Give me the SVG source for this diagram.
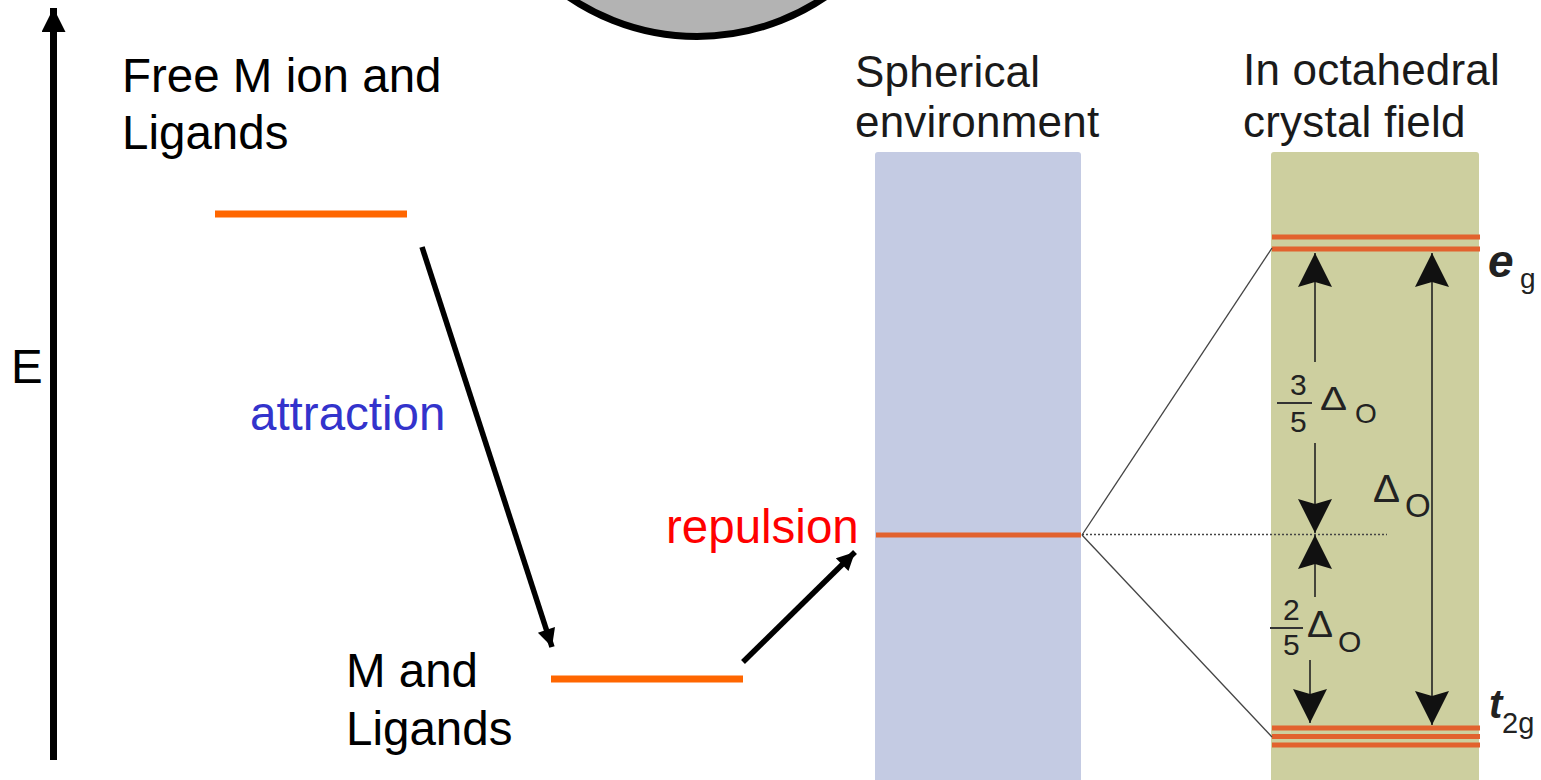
<svg xmlns="http://www.w3.org/2000/svg" width="1541" height="780" viewBox="0 0 1541 780">
<style>
.t{font-family:"Liberation Sans",Arial,sans-serif;fill:#000}
.big{font-size:47.5px}
.hd{font-size:44px;fill:#1a1a1a;letter-spacing:0.2px}
.lvl{stroke:#ff6600;stroke-width:7;fill:none}
.lvr{stroke:#e2622e;stroke-width:5;fill:none}
.thick{stroke:#000;stroke-width:5.5;fill:none}
.thin{stroke:#222;stroke-width:1.6;fill:none}
.split{stroke:#444;stroke-width:1.3;fill:none}
.math{font-family:"Liberation Sans",Arial,sans-serif;fill:#222}
</style>
<defs>
<marker id="ahT" viewBox="0 0 10 10" refX="10" refY="5" markerUnits="userSpaceOnUse" markerWidth="22" markerHeight="18" orient="auto-start-reverse">
<path d="M0,0 L10,5 L0,10 z" fill="#000"/>
</marker>
<marker id="ahA" viewBox="0 0 10 10" refX="10" refY="5" markerUnits="userSpaceOnUse" markerWidth="24" markerHeight="24" orient="auto-start-reverse">
<path d="M0,0 L10,5 L0,10 z" fill="#000"/>
</marker>
<marker id="ahS" viewBox="0 0 10 10" refX="10" refY="5" markerUnits="userSpaceOnUse" markerWidth="36" markerHeight="34" orient="auto-start-reverse">
<path d="M0,0 L10,5 L0,10 L1.5,5 z" fill="#111"/>
</marker>
</defs>
<rect width="1541" height="780" fill="#fff"/>

<g id="metal-sphere">
<circle cx="697" cy="-191" r="227.5" fill="#b3b3b3" stroke="#000" stroke-width="7"/>
</g>

<g id="energy-axis">
<text class="t big" x="11" y="383">E</text>
</g>

<g id="free-level">
<line class="lvl" x1="215" y1="214" x2="407" y2="214"/>
<text class="t big" x="122" y="92">Free M ion and</text>
<text class="t big" x="122" y="149">Ligands</text>
</g>

<g id="bound-level">
<line class="lvl" x1="551" y1="679" x2="743" y2="679"/>
<text class="t big" x="346" y="687">M and</text>
<text class="t big" x="346" y="745">Ligands</text>
</g>

<g id="spherical">
<rect x="875" y="152" width="206" height="640" rx="3" fill="#c4cbe3"/>
<line class="lvr" x1="876" y1="535" x2="1081" y2="535"/>
<text class="t hd" x="855" y="87">Spherical</text>
<text class="t hd" x="855" y="137">environment</text>
</g>

<g id="octahedral">
<rect x="1271" y="152" width="208" height="640" rx="3" fill="#cdcf9f"/>
<line class="lvr" x1="1272" y1="237" x2="1480" y2="237"/>
<line class="lvr" x1="1272" y1="249" x2="1480" y2="249"/>
<line class="lvr" x1="1272" y1="728" x2="1480" y2="728"/>
<line class="lvr" x1="1272" y1="736.5" x2="1480" y2="736.5"/>
<line class="lvr" x1="1272" y1="745" x2="1480" y2="745"/>
<text class="t hd" x="1243" y="85">In octahedral</text>
<text class="t hd" x="1243" y="137">crystal field</text>
<text class="math" x="1488" y="277" font-size="46" font-weight="bold" font-style="italic" fill="#111">e</text>
<text class="math" x="1520" y="288" font-size="28">g</text>
<text class="math" x="1489" y="718" font-size="40" font-weight="bold" font-style="italic" fill="#111">t</text>
<text class="math" x="1502" y="733" font-size="29">2g</text>
<text class="math" x="1290" y="395" font-size="30">3</text>
<line x1="1277" y1="403" x2="1312" y2="403" stroke="#333" stroke-width="2"/>
<text class="math" x="1290" y="432" font-size="30">5</text>
<text class="math" x="1320" y="410" font-size="34" textLength="27" lengthAdjust="spacingAndGlyphs">Δ</text>
<text class="math" x="1355" y="423" font-size="28">O</text>
<text class="math" x="1283" y="620" font-size="30">2</text>
<line x1="1270" y1="628" x2="1303" y2="628" stroke="#333" stroke-width="2"/>
<text class="math" x="1283" y="655" font-size="30">5</text>
<text class="math" x="1307" y="637" font-size="37" textLength="26" lengthAdjust="spacingAndGlyphs">Δ</text>
<text class="math" x="1338" y="652" font-size="30">O</text>
<text class="math" x="1373" y="502" font-size="39" textLength="27" lengthAdjust="spacingAndGlyphs">Δ</text>
<text class="math" x="1405" y="517" font-size="33">O</text>
</g>

<g id="connectors">
<line x1="53.5" y1="760" x2="53.5" y2="8" stroke="#000" stroke-width="7" marker-end="url(#ahA)"/>
<line class="thick" x1="422" y1="247" x2="552" y2="647" marker-end="url(#ahT)"/>
<text class="t big" x="250" y="430" style="fill:#3333cc">attraction</text>
<line class="thick" x1="743" y1="662" x2="855" y2="552" marker-end="url(#ahT)"/>
<text class="t big" x="666" y="543" style="fill:#ff0000">repulsion</text>
<line class="split" x1="1082" y1="535" x2="1272" y2="248"/>
<line class="split" x1="1082" y1="535" x2="1272" y2="737"/>
<line x1="1082" y1="534.5" x2="1387" y2="534.5" stroke="#444" stroke-width="1.5" stroke-dasharray="2,2"/>
<line class="thin" x1="1315" y1="362" x2="1315" y2="253" marker-end="url(#ahS)"/>
<line class="thin" x1="1315" y1="443" x2="1315" y2="533" marker-end="url(#ahS)"/>
<line class="thin" x1="1315" y1="597" x2="1315" y2="535" marker-end="url(#ahS)"/>
<line class="thin" x1="1310" y1="660" x2="1310" y2="723" marker-end="url(#ahS)"/>
<line class="thin" x1="1432" y1="253" x2="1432" y2="725" marker-start="url(#ahS)" marker-end="url(#ahS)"/>
</g>
</svg>
